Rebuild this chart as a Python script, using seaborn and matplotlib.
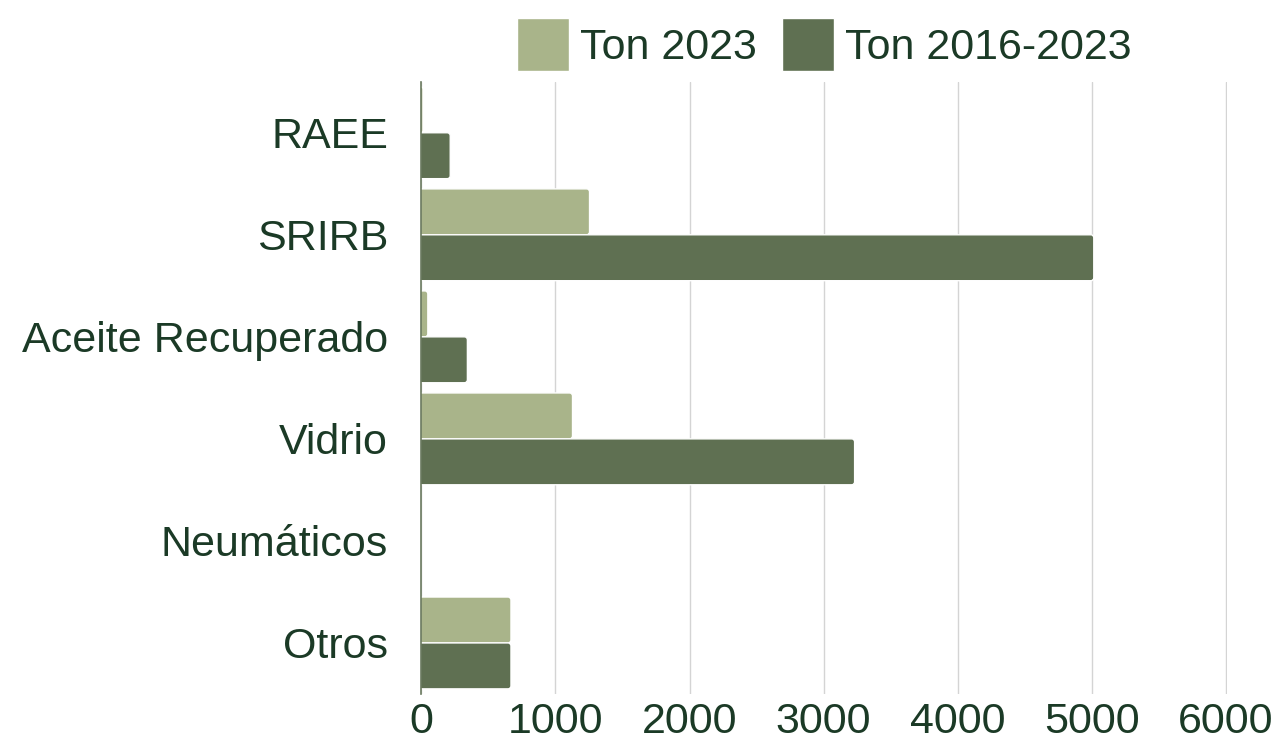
import pandas as pd
import matplotlib
matplotlib.use('Agg')
from matplotlib import pyplot as plt
from matplotlib.patches import FancyBboxPatch
import seaborn as sns

categorias = ['RAEE', 'SRIRB', 'Aceite Recuperado', 'Vidrio', 'Neumáticos', 'Otros']
ton_2023 = [12, 1254, 48, 1127, 0, 668]
ton_2016_2023 = [215, 5015, 343, 3231, 0, 668]
series = ['Ton 2023', 'Ton 2016-2023']
colores = ['#a9b48a', '#5f7052']
texto = '#1b3a26'

df = pd.DataFrame({
    'categoria': categorias * 2,
    'ton': ton_2023 + ton_2016_2023,
    'serie': [series[0]] * len(categorias) + [series[1]] * len(categorias),
})

sns.set_style('white')
plt.rcParams['font.family'] = ['Liberation Sans', 'DejaVu Sans']

fig, ax = plt.subplots(figsize=(12.77, 7.43), dpi=100)
fig.subplots_adjust(left=0.33, right=0.961, top=0.89, bottom=0.066)

sns.barplot(data=df, y='categoria', x='ton', hue='serie', orient='h',
            palette=colores, width=0.9, edgecolor='white', linewidth=1,
            saturation=1, ax=ax)

ax.set_xlim(0, 6010)
ax.set_xticks(range(0, 7000, 1000))
ax.grid(axis='x', color='#d4d4d4', linewidth=1)
ax.set_axisbelow(True)
for s in ['top', 'right', 'bottom']:
    ax.spines[s].set_visible(False)
ax.spines['left'].set_color('#6b7a60')
ax.spines['left'].set_linewidth(1.2)
ax.set_xlabel('')
ax.set_ylabel('')
ax.tick_params(axis='both', labelsize=31, colors=texto, length=0)
ax.tick_params(axis='x', pad=6)
ax.tick_params(axis='y', pad=24)

ax.legend(loc='lower center', bbox_to_anchor=(0.5, 0.99), ncol=2, frameon=False,
          fontsize=31, labelcolor=texto, handlelength=1.2, handleheight=1.5,
          handletextpad=0.25, columnspacing=0.6, borderaxespad=0.0)

# esquinas redondeadas en las barras
x0, x1 = ax.get_xlim()
y0, y1 = ax.get_ylim()
bb = ax.get_window_extent()
ux = (x1 - x0) / bb.width
uy = abs(y1 - y0) / bb.height
r = 3 * ux
for p in list(ax.patches):
    w = p.get_width()
    if w <= 0:
        p.remove()
        continue
    xs, ys, h = p.get_x(), p.get_y(), p.get_height()
    rr = min(r, (w + r) / 2)
    caja = FancyBboxPatch((xs - r, ys), w + r, h,
                          boxstyle=f'round,pad=0,rounding_size={rr}',
                          mutation_aspect=uy / ux,
                          facecolor=p.get_facecolor(), edgecolor='white',
                          linewidth=1, zorder=p.get_zorder())
    p.remove()
    ax.add_patch(caja)

fig.savefig('out.png', dpi=100)
